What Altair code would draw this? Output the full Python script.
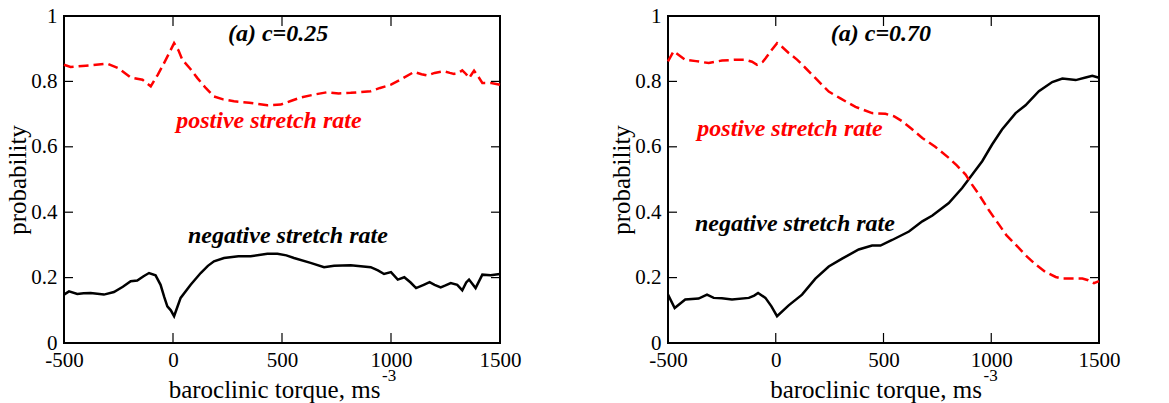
import altair as alt
import pandas as pd

# ---------------- data ----------------
X_TICKS = [0, 500, 1000]
Y_TICKS = [0.2, 0.4, 0.6, 0.8]
X_LABELS = [-500, 0, 500, 1000, 1500]
Y_LABELS = [0, 0.2, 0.4, 0.6, 0.8, 1]

# panel (a) c=0.25
l_pos_x = [-500, -470, -400, -301, -250, -194, -140, -102, -70, -41, -15, 5, 25, 43, 80, 112, 150, 188, 230, 280, 350, 433, 494, 540, 586, 650, 708, 760, 815, 907, 950, 1000, 1050, 1106, 1140, 1167, 1200, 1243, 1270, 1289, 1310, 1327, 1345, 1358, 1370, 1381, 1400, 1419, 1460, 1500]
l_pos_y = [0.851, 0.844, 0.848, 0.854, 0.840, 0.812, 0.805, 0.785, 0.820, 0.856, 0.890, 0.917, 0.895, 0.866, 0.838, 0.810, 0.780, 0.754, 0.745, 0.739, 0.735, 0.727, 0.729, 0.740, 0.751, 0.760, 0.767, 0.763, 0.765, 0.770, 0.780, 0.790, 0.808, 0.829, 0.822, 0.818, 0.826, 0.831, 0.826, 0.823, 0.826, 0.834, 0.822, 0.810, 0.822, 0.833, 0.815, 0.795, 0.795, 0.790]
l_neg_x = [-500, -477, -439, -410, -378, -317, -271, -230, -194, -164, -135, -110, -80, -57, -40, -26, -10, 5, 20, 35, 81, 127, 160, 188, 234, 300, 356, 433, 479, 520, 555, 631, 693, 739, 815, 907, 940, 968, 1000, 1031, 1061, 1090, 1115, 1150, 1177, 1200, 1228, 1250, 1274, 1304, 1327, 1345, 1358, 1388, 1419, 1457, 1500]
l_neg_y = [0.148, 0.158, 0.150, 0.152, 0.153, 0.148, 0.156, 0.172, 0.189, 0.191, 0.204, 0.214, 0.207, 0.178, 0.140, 0.112, 0.100, 0.082, 0.110, 0.138, 0.178, 0.214, 0.236, 0.250, 0.260, 0.265, 0.265, 0.273, 0.273, 0.268, 0.260, 0.245, 0.232, 0.236, 0.238, 0.232, 0.222, 0.211, 0.217, 0.194, 0.201, 0.185, 0.168, 0.178, 0.186, 0.178, 0.170, 0.176, 0.183, 0.178, 0.161, 0.185, 0.194, 0.168, 0.209, 0.207, 0.211]

# panel (a) c=0.70
r_pos_x = [-500, -474, -420, -370, -311, -249, -190, -141, -110, -87, -60, -48, -20, 6, 30, 60, 100, 138, 190, 246, 300, 370, 447, 509, 550, 587, 630, 680, 740, 803, 840, 881, 910, 943, 990, 1036, 1070, 1113, 1160, 1206, 1250, 1299, 1330, 1361, 1423, 1450, 1477, 1500]
r_pos_y = [0.861, 0.892, 0.866, 0.862, 0.856, 0.864, 0.866, 0.866, 0.860, 0.851, 0.860, 0.870, 0.895, 0.917, 0.905, 0.887, 0.866, 0.841, 0.806, 0.769, 0.748, 0.722, 0.703, 0.701, 0.693, 0.678, 0.655, 0.627, 0.600, 0.566, 0.543, 0.515, 0.485, 0.454, 0.405, 0.362, 0.330, 0.301, 0.268, 0.240, 0.218, 0.202, 0.197, 0.197, 0.197, 0.192, 0.183, 0.189]
r_neg_x = [-500, -469, -420, -358, -319, -288, -250, -203, -125, -100, -82, -48, -20, 6, 60, 122, 184, 246, 308, 385, 447, 486, 540, 618, 680, 727, 803, 865, 912, 958, 1004, 1050, 1113, 1159, 1221, 1283, 1330, 1392, 1438, 1469, 1500]
r_neg_y = [0.148, 0.107, 0.133, 0.136, 0.148, 0.138, 0.137, 0.133, 0.138, 0.145, 0.153, 0.138, 0.112, 0.082, 0.115, 0.148, 0.197, 0.234, 0.258, 0.286, 0.298, 0.298, 0.315, 0.341, 0.372, 0.390, 0.428, 0.474, 0.515, 0.556, 0.607, 0.653, 0.703, 0.727, 0.770, 0.798, 0.809, 0.804, 0.812, 0.817, 0.811]

L_TITLE = "(a) c=0.25"
R_TITLE = "(a) c=0.70"
POS_LABEL = "postive stretch rate"
NEG_LABEL = "negative stretch rate"

# annotation anchors (data coordinates)
l_title_xy = (482, 0.945)
l_pos_label_xy = (440, 0.679)
l_neg_label_xy = (527, 0.327)
r_title_xy = (488, 0.945)
r_pos_label_xy = (66, 0.654)
r_neg_label_xy = (89, 0.364)

SERIF = "Times New Roman, Liberation Serif, serif"
H = 327


def panel(pos_x, pos_y, neg_x, neg_y, title, title_xy, pos_xy, neg_xy, W):
    xs = alt.Scale(domain=[-500, 1500], nice=False, zero=False)
    ys = alt.Scale(domain=[0, 1], nice=False, zero=False)
    xaxis = alt.Axis(values=X_LABELS, labelExpr="datum.value + ''", title="baroclinic torque, ms",
                     ticks=False, domain=False, grid=False, labelFlush=False, labelOverlap=False,
                     labelPadding=6, titleX=W / 2 - 8, titleBaseline="alphabetic", titleY=54)
    yaxis = alt.Axis(values=Y_LABELS,
                     labelExpr="datum.value == 0 ? '0' : (datum.value == 1 ? '1' : format(datum.value, '.1f'))",
                     title="probability", ticks=False, domain=False, grid=False, labelFlush=False,
                     labelOverlap=False, labelPadding=7, titlePadding=0)

    pos = pd.DataFrame({"x": pos_x, "y": pos_y})
    neg = pd.DataFrame({"x": neg_x, "y": neg_y})

    neg_line = alt.Chart(neg).mark_line(color="black", strokeWidth=2.5).encode(
        x=alt.X("x:Q", scale=xs, axis=xaxis), y=alt.Y("y:Q", scale=ys, axis=yaxis))
    pos_line = alt.Chart(pos).mark_line(color="#ff0000", strokeWidth=2.5, strokeDash=[10, 5]).encode(
        x=alt.X("x:Q", scale=xs), y=alt.Y("y:Q", scale=ys))

    texts = pd.DataFrame({
        "x": [title_xy[0], pos_xy[0], neg_xy[0]],
        "y": [title_xy[1], pos_xy[1], neg_xy[1]],
        "t": [title, POS_LABEL, NEG_LABEL],
        "c": ["black", "#ff0000", "black"],
    })
    labels = alt.Chart(texts).mark_text(font=SERIF, fontSize=24, fontStyle="italic", fontWeight="bold").encode(
        x=alt.X("x:Q", scale=xs), y=alt.Y("y:Q", scale=ys), text="t:N",
        color=alt.Color("c:N", scale=None))

    xt = pd.DataFrame({"v": X_TICKS})
    yt = pd.DataFrame({"v": Y_TICKS})
    tick_b = alt.Chart(xt).mark_rule(color="black", strokeWidth=1.2).encode(
        x=alt.X("v:Q", scale=xs), y=alt.value(H), y2=alt.value(H - 10))
    tick_t = alt.Chart(xt).mark_rule(color="black", strokeWidth=1.2).encode(
        x=alt.X("v:Q", scale=xs), y=alt.value(0), y2=alt.value(10))
    tick_l = alt.Chart(yt).mark_rule(color="black", strokeWidth=1.2).encode(
        y=alt.Y("v:Q", scale=ys), x=alt.value(0), x2=alt.value(9))
    tick_r = alt.Chart(yt).mark_rule(color="black", strokeWidth=1.2).encode(
        y=alt.Y("v:Q", scale=ys), x=alt.value(W), x2=alt.value(W - 9))

    sup = alt.Chart(pd.DataFrame({"t": ["-3"]})).mark_text(font=SERIF, fontSize=17, align="left").encode(
        x=alt.value(W / 2 + 100), y=alt.value(H + 33), text="t:N")

    return alt.layer(neg_line, pos_line, labels, tick_b, tick_t, tick_l, tick_r, sup).properties(
        width=W, height=H)


left = panel(l_pos_x, l_pos_y, l_neg_x, l_neg_y, L_TITLE, l_title_xy, l_pos_label_xy, l_neg_label_xy, 436)
right = panel(r_pos_x, r_pos_y, r_neg_x, r_neg_y, R_TITLE, r_title_xy, r_pos_label_xy, r_neg_label_xy, 431)

chart = alt.hconcat(left, right, spacing=86).properties(
    padding={"left": -4, "top": -4, "right": 0, "bottom": 0}
).configure(background="white").configure_view(stroke="black", strokeWidth=2).configure_axis(
    labelFont=SERIF, labelFontSize=21, labelColor="black",
    titleFont=SERIF, titleFontSize=25, titleFontWeight="normal", titleColor="black"
)

chart.save("out.html", embed_options={"renderer": "svg", "actions": False})
